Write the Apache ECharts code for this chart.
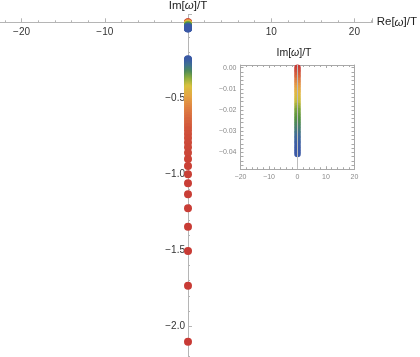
<!DOCTYPE html>
<html>
<head>
<meta charset="utf-8">
<script src="https://cdn.jsdelivr.net/npm/echarts@6/dist/echarts.min.js"></script>
<style>html,body{margin:0;padding:0;background:#fff}#c{width:420px;height:357px}</style>
</head>
<body>
<div id="c"></div>
<script>
// All modes are purely imaginary: Re[omega]/T = 0
const RE_OMEGA = 0;
// Slow branch (shown in the inset), from 0 down to about -0.041 (red -> blue)
const imBranchA = [0.0000, -0.0012, -0.0024, -0.0036, -0.0048, -0.0060, -0.0072, -0.0084, -0.0096,
  -0.0108, -0.0120, -0.0132, -0.0144, -0.0156, -0.0168, -0.0180, -0.0192, -0.0204, -0.0216,
  -0.0228, -0.0240, -0.0252, -0.0264, -0.0276, -0.0288, -0.0300, -0.0312, -0.0324, -0.0336,
  -0.0348, -0.0360, -0.0372, -0.0384, -0.0396, -0.0408];
// Fast branch, from about -0.24 (blue) down to -2.10 (red)
const imBranchB = [-0.243, -0.247, -0.251, -0.255, -0.259, -0.263, -0.267, -0.271, -0.275, -0.279,
  -0.284, -0.288, -0.293, -0.297, -0.302, -0.307, -0.312, -0.317, -0.322, -0.328, -0.333, -0.338,
  -0.344, -0.350, -0.356, -0.362, -0.368, -0.374, -0.381, -0.388, -0.395, -0.402, -0.409, -0.417,
  -0.425, -0.433, -0.441, -0.450, -0.459, -0.468, -0.478, -0.488, -0.498, -0.509, -0.520, -0.532,
  -0.544, -0.557, -0.570, -0.584, -0.599, -0.615, -0.632, -0.650, -0.669, -0.689, -0.711, -0.735,
  -0.761, -0.790, -0.822, -0.858, -0.899, -0.945, -1.000, -1.059, -1.132, -1.224, -1.345, -1.505,
  -1.733, -2.101];
const mainXTicks = [-20, -10, 10, 20];
const mainYTicks = [-0.5, -1.0, -1.5, -2.0];
const insetXTicks = [-20, -10, 0, 10, 20];
const insetYTicks = [0.00, -0.01, -0.02, -0.03, -0.04];

const colorsA = ['#3a58a6', '#3b5ca4', '#3f6a98', '#48806c', '#54913f', '#7aa33c', '#c9bd3e', '#e2b742', '#e39343', '#d4603b', '#c83a35'];
const colorsB = ['#3a58a6', '#3c5fa2', '#41738f', '#4e8a58', '#8aab3f', '#d8c23f', '#e5a444', '#dd7a41', '#cf4f3a', '#c93f36', '#c83a35'];

// colour parameter: branch A runs red (top) -> blue (bottom); branch B blue (top) -> red (bottom)
const dataA = imBranchA.map((v, i) => [RE_OMEGA, v, 1 - i / (imBranchA.length - 1)]);
const dataB = imBranchB.map((v, i) => [RE_OMEGA, v, i / (imBranchB.length - 1)]);

const FONT = 'Liberation Sans';
const minus = s => String(s).replace('-', '\u2212');
const near = (v, arr, eps) => arr.some(t => Math.abs(t - v) < eps);

// main plot geometry: origin at (x0, y0) in pixels
const kx = 8.32, ky = 152, x0 = 188, y0 = 22.3;
const mxMin = -30, mxMax = 22.2, myMin = -2.5, myMax = 0.05;
const gLeft = x0 + mxMin * kx, gTop = y0 - myMax * ky;
const gWidth = (mxMax - mxMin) * kx, gHeight = (myMax - myMin) * ky;

const insetRich = { w: { fontStyle: 'italic', fontSize: 10.5, color: '#222', fontFamily: FONT } };
const mainRich = { w: { fontStyle: 'italic', fontSize: 11.5, color: '#222', fontFamily: FONT } };

const insetAxisCommon = {
  axisLine: { show: true, onZero: false, lineStyle: { color: '#a8a8a8', width: 1 } },
  axisTick: { show: true, inside: true, length: 3, lineStyle: { color: '#a8a8a8' } },
  splitLine: { show: false }
};

const option = {
  animation: false,
  backgroundColor: '#fff',
  grid: [
    { left: gLeft, top: gTop, width: gWidth, height: gHeight, containLabel: false, outerBoundsMode: 'none' },
    { left: 240.5, top: 65, width: 114, height: (0.00128 + 0.048) * 2115, containLabel: false, outerBoundsMode: 'none' }
  ],
  xAxis: [
    {
      type: 'value', gridIndex: 0, min: mxMin, max: mxMax, interval: 10,
      position: 'bottom', offset: -(gTop + gHeight - y0),
      name: 'Re[{w|ω}]/T', nameLocation: 'end', nameGap: 4,
      nameTextStyle: { fontSize: 11.5, color: '#222', fontFamily: FONT, align: 'left', verticalAlign: 'middle', rich: mainRich },
      axisLine: { show: true, onZero: false, lineStyle: { color: '#b5b5b5', width: 1 } },
      axisTick: { show: true, inside: true, length: 4, lineStyle: { color: '#b5b5b5' } },
      minorTick: { show: true, splitNumber: 5, length: 2, lineStyle: { color: '#b5b5b5' } },
      axisLabel: { margin: 5, fontSize: 10, color: '#333', fontFamily: FONT,
        formatter: v => near(v, mainXTicks, 1e-6) ? minus(v) : '' },
      splitLine: { show: false }
    },
    Object.assign({
      type: 'value', gridIndex: 1, min: -20, max: 20, interval: 10, position: 'bottom',
      minorTick: { show: true, splitNumber: 5, length: 2, lineStyle: { color: '#a8a8a8' } },
      axisLabel: { margin: 4, fontSize: 7, color: '#8a8a8a', fontFamily: FONT,
        formatter: v => near(v, insetXTicks, 1e-6) ? minus(v) : '' }
    }, insetAxisCommon),
    Object.assign({
      type: 'value', gridIndex: 1, min: -20, max: 20, interval: 10, position: 'top',
      minorTick: { show: true, splitNumber: 5, length: 2, lineStyle: { color: '#a8a8a8' } },
      axisLabel: { show: false }
    }, insetAxisCommon)
  ],
  yAxis: [
    {
      type: 'value', gridIndex: 0, min: myMin, max: myMax, interval: 0.5,
      position: 'left', offset: -(x0 - gLeft),
      name: 'Im[{w|ω}]/T', nameLocation: 'end', nameGap: 3,
      nameTextStyle: { fontSize: 11.5, color: '#222', fontFamily: FONT, rich: mainRich },
      axisLine: { show: true, onZero: false, lineStyle: { color: '#b5b5b5', width: 1 } },
      axisTick: { show: true, inside: true, length: 4, lineStyle: { color: '#b5b5b5' } },
      minorTick: { show: true, splitNumber: 5, length: 2, lineStyle: { color: '#b5b5b5' } },
      axisLabel: { margin: 3, fontSize: 10, color: '#333', fontFamily: FONT,
        formatter: v => near(v, mainYTicks, 1e-6) ? minus(v.toFixed(1)) : '' },
      splitLine: { show: false }
    },
    Object.assign({
      type: 'value', gridIndex: 1, min: -0.048, max: 0.00128, interval: 0.002, position: 'left',
      axisLabel: { margin: 4, fontSize: 7, color: '#8a8a8a', fontFamily: FONT,
        showMaxLabel: false,
        formatter: v => near(v, insetYTicks, 1e-7) ? (Math.abs(v) < 1e-7 ? '0.00' : minus(v.toFixed(2))) : '' }
    }, insetAxisCommon),
    Object.assign({
      type: 'value', gridIndex: 1, min: -0.048, max: 0.00128, interval: 0.002, position: 'right',
      axisLabel: { show: false }
    }, insetAxisCommon)
  ],
  graphic: [{
    type: 'text', x: 294, y: 53.5,
    style: { text: 'Im[{w|ω}]/T', fontSize: 10.5, fill: '#222', fontFamily: FONT,
      align: 'center', verticalAlign: 'middle', rich: insetRich }
  }],
  visualMap: [
    { type: 'continuous', show: false, seriesIndex: [0, 2], dimension: 2, min: 0, max: 1, inRange: { color: colorsA } },
    { type: 'continuous', show: false, seriesIndex: [1], dimension: 2, min: 0, max: 1, inRange: { color: colorsB } }
  ],
  series: [
    { type: 'scatter', xAxisIndex: 0, yAxisIndex: 0, symbolSize: 8, data: dataA, itemStyle: { opacity: 1 }, z: 3 },
    { type: 'scatter', xAxisIndex: 0, yAxisIndex: 0, symbolSize: 8, data: dataB, itemStyle: { opacity: 1 }, z: 3 },
    { type: 'scatter', xAxisIndex: 1, yAxisIndex: 1, symbolSize: 6.5, data: dataA, itemStyle: { opacity: 1 }, z: 3,
      markLine: { silent: true, symbol: 'none', label: { show: false },
        lineStyle: { color: '#bdbdbd', width: 1, type: 'solid' }, data: [{ xAxis: 0 }] } }
  ]
};

const chart = echarts.init(document.getElementById('c'), null, { renderer: 'canvas' });
chart.setOption(option);
</script>
</body>
</html>
